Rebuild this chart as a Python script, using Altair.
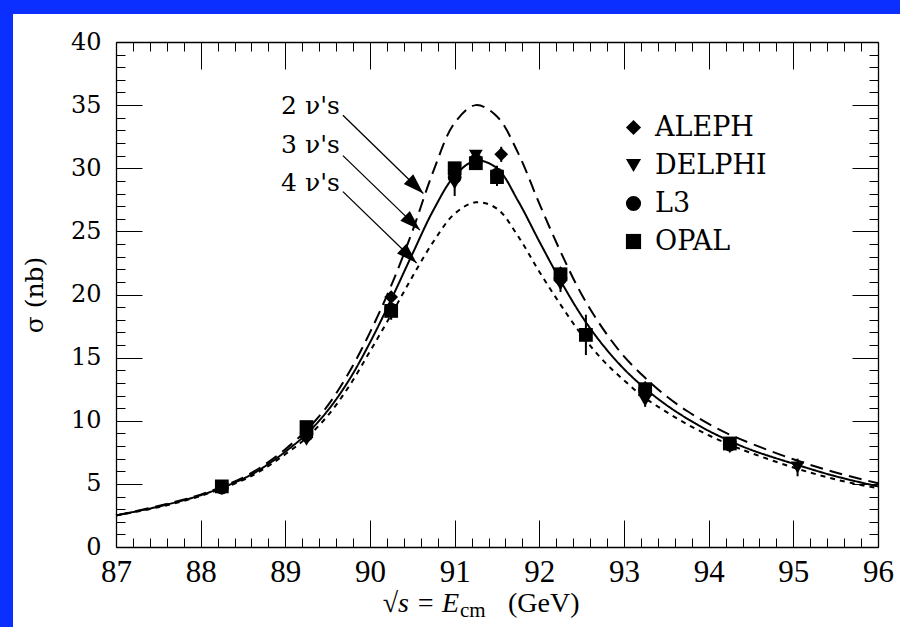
import altair as alt
import pandas as pd

# ---------------- data ----------------
E_GRID = [87.0, 87.5, 88.0, 88.5, 88.75, 89.0, 89.25, 89.5, 89.75, 90.0, 90.25, 90.5, 90.75,
          91.0, 91.25, 91.5, 91.75, 92.0, 92.25, 92.5, 92.75, 93.0, 93.25, 93.5, 93.75,
          94.0, 94.25, 94.5, 95.0, 95.5, 96.0]
SIG_2NU = [2.5, 3.25, 4.15, 5.5, 6.5, 7.75, 9.25, 11.2, 13.8, 17.0, 20.7, 25.0, 29.8,
           33.6, 35.0, 34.1, 31.2, 27.2, 23.4, 20.0, 17.3, 15.1, 13.4, 11.95, 10.75,
           9.75, 8.9, 8.2, 6.95, 5.9, 5.05]
SIG_3NU = [2.5, 3.2, 4.1, 5.4, 6.35, 7.55, 8.95, 10.8, 13.2, 16.2, 19.6, 23.2, 26.7,
           29.4, 30.6, 30.0, 27.4, 24.2, 21.1, 18.3, 16.0, 14.1, 12.55, 11.25, 10.15,
           9.2, 8.4, 7.7, 6.6, 5.6, 4.8]
SIG_4NU = [2.5, 3.15, 4.05, 5.3, 6.2, 7.35, 8.65, 10.4, 12.7, 15.5, 18.4, 21.4, 24.2,
           26.4, 27.3, 26.8, 24.6, 21.8, 19.2, 16.8, 14.8, 13.2, 11.8, 10.7, 9.7,
           8.85, 8.1, 7.45, 6.3, 5.35, 4.65]

EXPERIMENTS = ["ALEPH", "DELPHI", "L3", "OPAL"]
SHAPES = ["diamond", "triangle-down", "circle", "square"]

ALEPH_E = [88.25, 89.25, 90.25, 91.0, 91.25, 91.55, 92.25, 93.25, 94.25]
ALEPH_S = [4.7, 8.7, 19.8, 29.8, 30.5, 31.1, 21.7, 12.6, 8.1]
ALEPH_ERR = [0.15, 0.2, 0.3, 0.5, 0.2, 0.6, 0.3, 0.3, 0.2]

DELPHI_E = [88.25, 89.25, 90.25, 91.0, 91.25, 91.5, 92.25, 93.25, 94.25, 95.05]
DELPHI_S = [4.6, 8.5, 18.5, 28.8, 31.0, 29.4, 20.8, 11.6, 7.9, 6.3]
DELPHI_ERR = [0.15, 0.2, 0.5, 1.0, 0.3, 0.8, 0.6, 0.5, 0.3, 0.7]

L3_E = [88.25, 89.25, 90.25, 91.0, 91.25, 91.5, 92.25, 93.25, 94.25]
L3_S = [4.7, 8.9, 18.8, 29.3, 30.6, 29.5, 21.3, 12.4, 8.1]
L3_ERR = [0.2, 0.2, 0.3, 0.4, 0.3, 0.5, 0.3, 0.3, 0.2]

OPAL_E = [88.25, 89.25, 90.25, 91.0, 91.25, 91.5, 92.25, 92.55, 93.25, 94.25]
OPAL_S = [4.8, 9.5, 18.7, 30.0, 30.4, 29.3, 21.6, 16.8, 12.5, 8.2]
OPAL_ERR = [0.15, 0.2, 0.3, 0.5, 0.3, 0.4, 0.3, 1.6, 0.3, 0.2]

NU_LABELS = ["2 \u03bd's", "3 \u03bd's", "4 \u03bd's"]
LABEL_E = [88.95, 88.95, 88.95]
LABEL_S = [34.3, 31.2, 28.2]
ARROW_E0 = [89.68, 89.68, 89.68]
ARROW_S0 = [34.2, 31.0, 28.15]
ARROW_E1 = [90.63, 90.59, 90.55]
ARROW_S1 = [28.0, 25.1, 22.5]

X_MAJOR = [87, 88, 89, 90, 91, 92, 93, 94, 95, 96]
X_MINOR = [round(87 + 0.2 * i, 1) for i in range(46) if i % 5 != 0]
Y_MAJOR = [0, 5, 10, 15, 20, 25, 30, 35, 40]
Y_MINOR = [i for i in range(41) if i % 5 != 0]

# ---------------- tables ----------------
curves = pd.DataFrame({
    "E": E_GRID * 3,
    "sigma": SIG_2NU + SIG_3NU + SIG_4NU,
    "nu": ["2"] * len(E_GRID) + ["3"] * len(E_GRID) + ["4"] * len(E_GRID),
})

rows = []
for name, es, ss, ee in [("ALEPH", ALEPH_E, ALEPH_S, ALEPH_ERR),
                         ("DELPHI", DELPHI_E, DELPHI_S, DELPHI_ERR),
                         ("L3", L3_E, L3_S, L3_ERR),
                         ("OPAL", OPAL_E, OPAL_S, OPAL_ERR)]:
    for e, s, r in zip(es, ss, ee):
        rows.append({"exp": name, "E": e, "sigma": s, "lo": s - r, "hi": s + r})
points = pd.DataFrame(rows)

arrows = pd.DataFrame({"label": NU_LABELS, "tx": LABEL_E, "ty": LABEL_S,
                       "x0": ARROW_E0, "y0": ARROW_S0, "x1": ARROW_E1, "y1": ARROW_S1})
one = pd.DataFrame({"k": [0]})

W, H = 762, 505
xs = alt.Scale(domain=[87, 96], nice=False, zero=False)
ys = alt.Scale(domain=[0, 40], nice=False, zero=True)
WIDE = "DejaVu Serif"
NARROW = "Liberation Serif"


def tick_axis(orient, offset, values, size, domain=False):
    return alt.Axis(orient=orient, offset=offset, values=values, tickSize=size,
                    labels=False, domain=domain, domainColor="black", domainWidth=1.3,
                    grid=False, title=None, ticks=True,
                    tickColor="black", tickWidth=1, zindex=1)


background = alt.Chart(one).mark_rect(color="white").encode(
    x=alt.value(-103), x2=alt.value(800), y=alt.value(-28), y2=alt.value(600))

curve_layer = alt.Chart(curves).mark_line(color="black", strokeWidth=2,
                                           interpolate="catmull-rom").encode(
    x=alt.X("E:Q", scale=xs,
            axis=alt.Axis(orient="bottom", values=X_MAJOR, ticks=False, domain=False,
                          grid=False, title=None, labelFont=NARROW, labelFontSize=31,
                          labelPadding=10, labelColor="black", labelFlush=False,
                          zindex=1)),
    y=alt.Y("sigma:Q", scale=ys,
            axis=alt.Axis(orient="left", values=Y_MAJOR, ticks=False, domain=False,
                          grid=False, title="\u03c3 (nb)", labelFont=WIDE,
                          labelFontSize=24, labelPadding=15, labelColor="black",
                          labelFlush=False, titleFont=WIDE, titleFontSize=25,
                          titleFontWeight="normal", titleColor="black",
                          titleAngle=-90, titleX=-82, titleY=H / 2,
                          titleAlign="center", titleBaseline="middle", zindex=1)),
    strokeDash=alt.StrokeDash("nu:N", scale=alt.Scale(domain=["2", "3", "4"],
                              range=[[13, 7], [1, 0], [5, 5]]), legend=None),
)

errbars = alt.Chart(points).mark_rule(color="black", strokeWidth=2).encode(
    x=alt.X("E:Q", scale=xs, axis=tick_axis("top", -H, X_MAJOR, 27, True)),
    y=alt.Y("lo:Q", scale=ys, axis=tick_axis("right", -W, Y_MAJOR, 26, True)),
    y2="hi:Q",
)

markers = alt.Chart(points).mark_point(filled=True, opacity=1, color="black",
                                       size=190).encode(
    x=alt.X("E:Q", scale=xs, axis=tick_axis("top", -H, X_MINOR, 9)),
    y=alt.Y("sigma:Q", scale=ys, axis=tick_axis("right", -W, Y_MINOR, 9)),
    shape=alt.Shape("exp:N", scale=alt.Scale(domain=EXPERIMENTS, range=SHAPES),
                    legend=alt.Legend(orient="none", legendX=504, legendY=72, title=None,
                                      labelFont=WIDE, labelFontSize=27,
                                      labelColor="black", labelOffset=8,
                                      symbolSize=230, symbolFillColor="black",
                                      symbolStrokeColor="black", symbolStrokeWidth=0,
                                      rowPadding=10, padding=0)),
)

arrow_lines = alt.Chart(arrows).mark_rule(color="black", strokeWidth=1.3).encode(
    x=alt.X("x0:Q", scale=xs, axis=tick_axis("bottom", -H, X_MAJOR, 27, True)),
    y=alt.Y("y0:Q", scale=ys, axis=tick_axis("left", -W, Y_MAJOR, 26, True)),
    x2="x1:Q", y2="y1:Q",
)

arrow_heads = alt.Chart(arrows).mark_point(
    shape="M0,0 L-1,-0.33 L-1,0.33 Z", filled=True, opacity=1, color="black",
    size=1700, angle=44).encode(
    x=alt.X("x1:Q", scale=xs, axis=tick_axis("bottom", -H, X_MINOR, 9)),
    y=alt.Y("y1:Q", scale=ys, axis=tick_axis("left", -W, Y_MINOR, 9)),
)

nu_text = alt.Chart(arrows).mark_text(align="left", baseline="alphabetic",
                                      font=WIDE, fontSize=25, color="black").encode(
    x=alt.X("tx:Q", scale=xs, axis=None),
    y=alt.Y("ty:Q", scale=ys, axis=None),
    text="label:N",
)

xt1 = alt.Chart(one).mark_text(align="right", baseline="alphabetic", font=NARROW,
                               fontSize=28, fontStyle="italic", color="black").encode(
    x=alt.value(343), y=alt.value(570), text=alt.value("\u221as = E"))
xt2 = alt.Chart(one).mark_text(align="left", baseline="alphabetic", font=NARROW,
                               fontSize=21, color="black").encode(
    x=alt.value(344), y=alt.value(575), text=alt.value("cm"))
xt3 = alt.Chart(one).mark_text(align="left", baseline="alphabetic", font=NARROW,
                               fontSize=28, color="black").encode(
    x=alt.value(392), y=alt.value(570), text=alt.value("(GeV)"))

chart = alt.layer(
    background, curve_layer, errbars, markers, arrow_lines, arrow_heads, nu_text,
    xt1, xt2, xt3,
).resolve_axis(x="independent", y="independent").properties(
    width=W, height=H,
    autosize=alt.AutoSizeParams(type="none"),
    padding={"left": 116, "top": 42, "right": 22, "bottom": 80},
    background="#0b2fff",
).configure_view(stroke=None).configure_axis(
    grid=False
)

chart.save("out.html", embed_options={"renderer": "svg", "actions": False})
